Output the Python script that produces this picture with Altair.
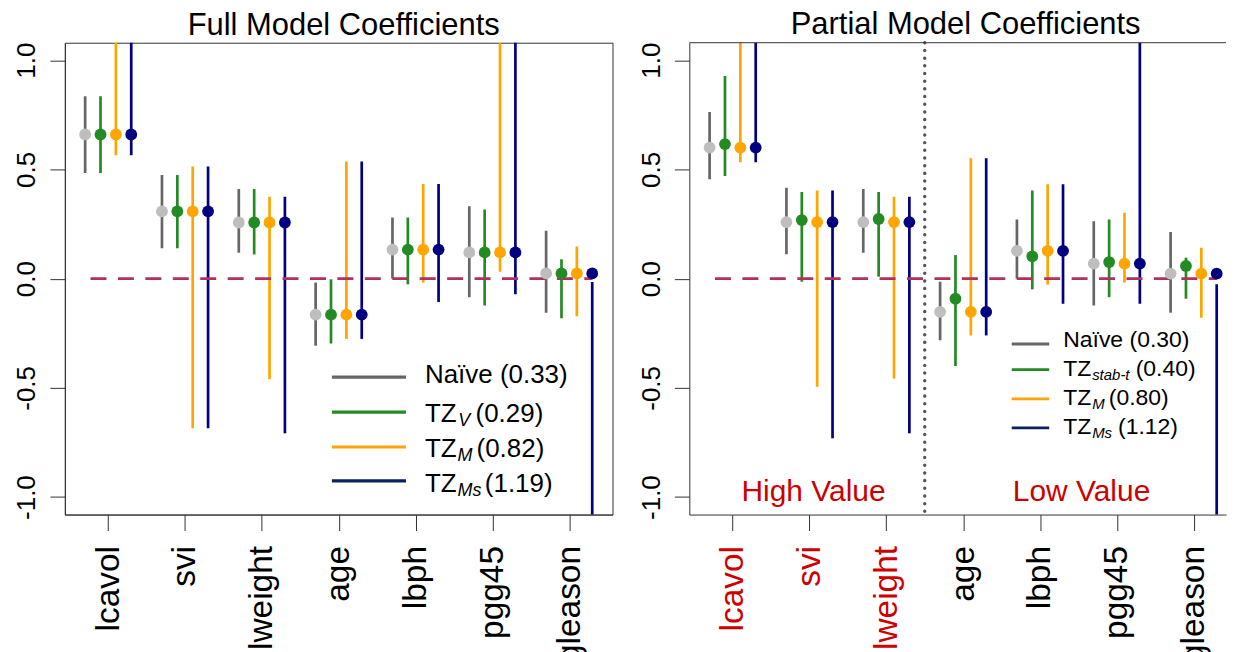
import json
import altair as alt
import pandas as pd

FONT = "Liberation Sans"

categories = ["lcavol", "svi", "lweight", "age", "lbph", "pgg45", "gleason"]
methods = ["naive", "tzv", "tzm", "tzms"]
method_offsets = [-0.3, -0.1, 0.1, 0.3]

# ---------------- Full model (left) ----------------
full_naive_est = [0.66, 0.308, 0.257, -0.165, 0.133, 0.12, 0.024]
full_naive_lo = [0.484, 0.139, 0.118, -0.307, 0.0, -0.085, -0.156]
full_naive_hi = [0.835, 0.475, 0.41, -0.018, 0.28, 0.331, 0.219]

full_tzv_est = [0.66, 0.308, 0.257, -0.165, 0.133, 0.12, 0.024]
full_tzv_lo = [0.484, 0.139, 0.110, -0.297, -0.026, -0.123, -0.181]
full_tzv_hi = [0.835, 0.475, 0.41, -0.003, 0.28, 0.317, 0.089]

full_tzm_est = [0.66, 0.308, 0.257, -0.165, 0.133, 0.12, 0.024]
full_tzm_lo = [0.565, -0.685, -0.46, -0.276, -0.018, 0.032, -0.172]
full_tzm_hi = [1.5, 0.513, 0.375, 0.536, 0.433, 1.5, 0.147]

full_tzms_est = [0.66, 0.308, 0.257, -0.165, 0.133, 0.12, 0.024]
full_tzms_lo = [0.565, -0.685, -0.708, -0.276, -0.107, -0.072, -1.5]
full_tzms_hi = [1.5, 0.513, 0.375, 0.536, 0.433, 1.5, -0.015]

# ---------------- Partial model (right) ----------------
part_naive_est = [0.60, 0.259, 0.259, -0.152, 0.127, 0.069, 0.023]
part_naive_lo = [0.455, 0.112, 0.119, -0.282, 0.0, -0.123, -0.156]
part_naive_hi = [0.763, 0.416, 0.41, -0.014, 0.271, 0.263, 0.214]

part_tzst_est = [0.616, 0.268, 0.273, -0.092, 0.102, 0.076, 0.058]
part_tzst_lo = [0.470, -0.014, 0.009, -0.40, -0.049, -0.085, -0.092]
part_tzst_hi = [0.928, 0.397, 0.397, 0.108, 0.403, 0.271, 0.096]

part_tzm_est = [0.60, 0.259, 0.259, -0.152, 0.127, 0.069, 0.023]
part_tzm_lo = [0.533, -0.495, -0.458, -0.26, -0.027, -0.018, -0.179]
part_tzm_hi = [1.5, 0.403, 0.375, 0.551, 0.432, 0.302, 0.141]

part_tzms_est = [0.60, 0.259, 0.259, -0.152, 0.127, 0.069, 0.023]
part_tzms_lo = [0.533, -0.731, -0.708, -0.26, -0.115, -0.115, -1.5]
part_tzms_hi = [1.5, 0.403, 0.375, 0.551, 0.432, 1.5, -0.026]

full_legend = [("Naïve", "", "(0.33)"), ("TZ", "V", "(0.29)"),
               ("TZ", "M", "(0.82)"), ("TZ", "Ms", "(1.19)")]
part_legend = [("Naïve", "", "(0.30)"), ("TZ", "stab-t", "(0.40)"),
               ("TZ", "M", "(0.80)"), ("TZ", "Ms", "(1.12)")]

bar_colors = ["#666666", "#228B22", "#FFA500", "#000080"]
point_colors = ["#BEBEBE", "#228B22", "#FFA500", "#000080"]
legend_line_colors = ["#666666", "#228B22", "#FFA500", "#0D1F5C"]

HEIGHT = 473
LEFT_W = 549
RIGHT_W = 538
PX_PER_UNIT = LEFT_W / (7.564 - 0.436)


def make_df(est, lo, hi):
    rows = []
    for mi, m in enumerate(methods):
        for ci, c in enumerate(categories):
            rows.append(dict(method=m, cat=c, pos=ci + 1 + method_offsets[mi],
                             est=est[mi][ci], lo=lo[mi][ci], hi=hi[mi][ci]))
    return pd.DataFrame(rows)


def one_row():
    return pd.DataFrame({"k": [0]})


def legend_layers(items, x0, x1, line_ys, text_x, base_ys, fs, sub_fs, sub_xs, rest_xs, lw):
    layers = []
    for i, (main, sub, rest) in enumerate(items):
        layers.append(
            alt.Chart(one_row()).mark_rule(strokeWidth=lw, color=legend_line_colors[i]).encode(
                x=alt.value(x0), x2=alt.value(x1), y=alt.value(line_ys[i]))
        )
        if sub:
            layers.append(
                alt.Chart(pd.DataFrame({"t": [main]})).mark_text(
                    align="left", baseline="alphabetic", fontSize=fs, font=FONT, color="black"
                ).encode(text="t:N", x=alt.value(text_x), y=alt.value(base_ys[i]))
            )
            layers.append(
                alt.Chart(pd.DataFrame({"t": [sub]})).mark_text(
                    align="left", baseline="alphabetic", fontSize=sub_fs, font=FONT,
                    fontStyle="italic", color="black"
                ).encode(text="t:N", x=alt.value(sub_xs[i]), y=alt.value(base_ys[i] + 4))
            )
            layers.append(
                alt.Chart(pd.DataFrame({"t": [rest]})).mark_text(
                    align="left", baseline="alphabetic", fontSize=fs, font=FONT, color="black"
                ).encode(text="t:N", x=alt.value(rest_xs[i]), y=alt.value(base_ys[i]))
            )
        else:
            layers.append(
                alt.Chart(pd.DataFrame({"t": [main + " " + rest]})).mark_text(
                    align="left", baseline="alphabetic", fontSize=fs, font=FONT, color="black"
                ).encode(text="t:N", x=alt.value(text_x), y=alt.value(base_ys[i]))
            )
    return layers


def panel(df, title, title_dx, width, xmax, label_color, extra, view_stroke):
    xscale = alt.Scale(domain=[0.436, xmax], nice=False, zero=False)
    yscale = alt.Scale(domain=[-1.08, 1.08], nice=False, zero=False)
    xaxis = alt.Axis(
        values=list(range(1, 8)),
        labelExpr=json.dumps(categories) + "[datum.value - 1]",
        labelAngle=270, labelAlign="right", labelBaseline="middle",
        labelFontSize=33.5, labelFont=FONT, labelPadding=15, tickSize=16,
        tickColor="#333333", domainColor="#333333", labelColor=label_color,
        grid=False, title=None, labelFlush=False, labelOverlap=False,
    )
    yaxis = alt.Axis(
        values=[-1, -0.5, 0, 0.5, 1],
        labelExpr="datum.value < 0 ? '-' + format(-datum.value, '.1f') : format(datum.value, '.1f')",
        labelAngle=270, labelAlign="center", labelBaseline="bottom",
        labelFontSize=26, labelFont=FONT, labelPadding=10, tickSize=15,
        tickColor="#333333", domainColor="#333333", labelColor="black",
        grid=False, title=None, labelFlush=False, labelOverlap=False,
    )
    base = alt.Chart(df)
    bars = base.mark_rule(strokeWidth=2.7, clip=True).encode(
        x=alt.X("pos:Q", scale=xscale, axis=xaxis),
        y=alt.Y("lo:Q", scale=yscale, axis=yaxis),
        y2="hi:Q",
        color=alt.Color("method:N", scale=alt.Scale(domain=methods, range=bar_colors), legend=None),
    )
    zero = alt.Chart(one_row()).mark_rule(
        strokeDash=[16, 11.5], strokeWidth=2.7, color="#B03060"
    ).encode(x=alt.datum(0.77), x2=alt.datum(7.3), y=alt.datum(0))
    pts = base.mark_circle(size=140, opacity=1).encode(
        x="pos:Q", y="est:Q",
        color=alt.Color("method:N", scale=alt.Scale(domain=methods, range=point_colors), legend=None),
    )
    layers = [bars, zero] + extra.get("under", []) + [pts] + extra.get("over", [])
    return alt.layer(*layers).resolve_scale(color="independent").properties(
        width=width, height=HEIGHT,
        title=alt.TitleParams(title, fontSize=31, font=FONT, fontWeight="normal",
                              anchor="middle", offset=0, dx=title_dx, color="black"),
        view=alt.ViewBackground(stroke=view_stroke, strokeWidth=1),
    )


full_df = make_df([full_naive_est, full_tzv_est, full_tzm_est, full_tzms_est],
                  [full_naive_lo, full_tzv_lo, full_tzm_lo, full_tzms_lo],
                  [full_naive_hi, full_tzv_hi, full_tzm_hi, full_tzms_hi])
part_df = make_df([part_naive_est, part_tzst_est, part_tzm_est, part_tzms_est],
                  [part_naive_lo, part_tzst_lo, part_tzm_lo, part_tzms_lo],
                  [part_naive_hi, part_tzst_hi, part_tzm_hi, part_tzms_hi])

left_legend = legend_layers(
    full_legend, 267.7, 342, [335.3, 370.3, 405.3, 439.3], 361,
    [341, 380.3, 415.3, 450], 26, 18, [0, 394.3, 393.7, 393.7], [0, 411.7, 412.7, 421], 3.2)

right_legend = legend_layers(
    part_legend, 323.2, 360.8, [302, 327.7, 357, 386], 374.8,
    [305, 334.3, 363.3, 392], 23, 15, [0, 403.8, 403.8, 403.8], [0, 447.5, 420.5, 429.8], 2.8)

divider = alt.Chart(one_row()).mark_rule(
    strokeDash=[0.1, 7.6], strokeCap="round", strokeWidth=3.4, color="#555555"
).encode(x=alt.datum(3.5))

region_texts = [
    alt.Chart(pd.DataFrame({"t": ["High Value"]})).mark_text(
        align="center", baseline="alphabetic", fontSize=30, font=FONT, color="#CD0000"
    ).encode(text="t:N", x=alt.value(124.5), y=alt.value(459)),
    alt.Chart(pd.DataFrame({"t": ["Low Value"]})).mark_text(
        align="center", baseline="alphabetic", fontSize=30, font=FONT, color="#CD0000"
    ).encode(text="t:N", x=alt.value(393.2), y=alt.value(459)),
]

frame_lines = [
    alt.Chart(one_row()).mark_rule(strokeWidth=1, color="#333333").encode(
        x=alt.value(0), x2=alt.value(RIGHT_W), y=alt.value(0)),
]

left = panel(full_df, "Full Model Coefficients", 5, LEFT_W, 7.564, "black",
             {"over": left_legend}, "#333333")
right_xmax = 0.436 + RIGHT_W / PX_PER_UNIT
right = panel(part_df, "Partial Model Coefficients", 8, RIGHT_W, right_xmax,
              {"condition": {"test": "datum.value <= 3", "value": "#CD0000"}, "value": "black"},
              {"under": [divider], "over": right_legend + region_texts + frame_lines},
              "transparent")

chart = alt.hconcat(left, right, spacing=24).properties(
    padding={"left": 5, "top": -1, "right": 0, "bottom": 0}
).configure(font=FONT)

chart.save("out.html", embed_options={"renderer": "svg", "actions": False})
